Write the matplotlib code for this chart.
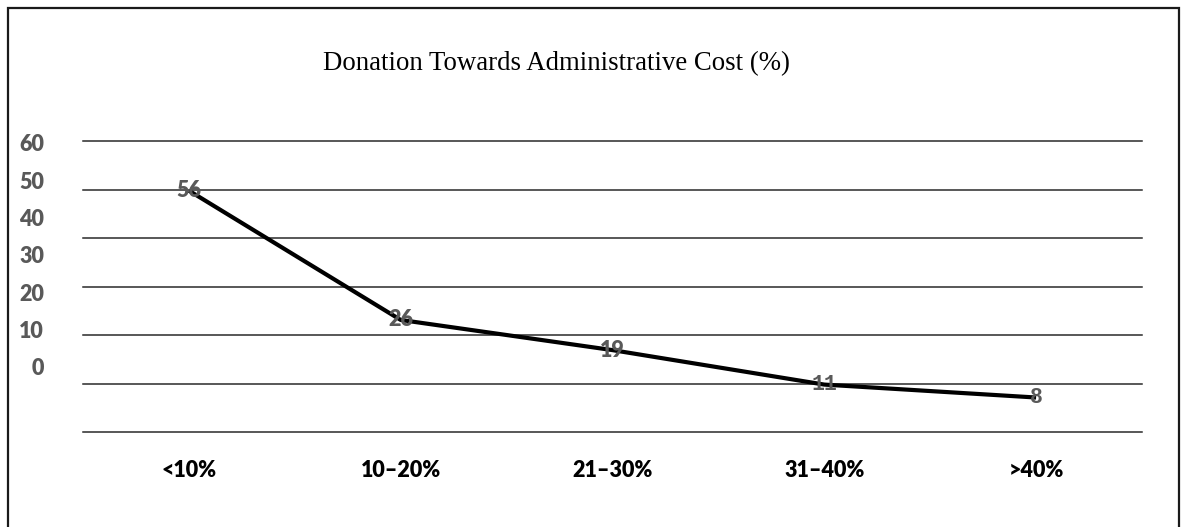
import numpy as np
import matplotlib
matplotlib.use("Agg")
import matplotlib.pyplot as plt
from matplotlib.patches import Rectangle

# ---- data ----
categories = ["<10%", "10\u201320%", "21\u201330%", "31\u201340%", ">40%"]
values = [56, 26, 19, 11, 8]
ytick_labels = [0, 10, 20, 30, 40, 50, 60]
title = "Donation Towards Administrative Cost (%)"

W, H, DPI = 1181, 527, 100
fig = plt.figure(figsize=(W / DPI, H / DPI), dpi=DPI)
fig.patch.set_facecolor("white")

def fx(px):
    return px / W

def fy(py):
    return 1 - py / H

SANS = ["Lato", "DejaVu Sans"]
left_px, right_px, top_px, bot_px = 83, 1142, 141.3, 432.0
ax = fig.add_axes([fx(left_px), fy(bot_px), fx(right_px - left_px), (bot_px - top_px) / H])

ytop = (bot_px - top_px) / 4.31
ax.set_xlim(-0.5, len(categories) - 0.5)
ax.set_ylim(0, ytop)
ax.set_yticks(np.linspace(0, ytop, 7))
ax.set_yticklabels([])
ax.tick_params(axis="y", length=0)
ax.grid(axis="y", color="#2a2a2a", linewidth=1.1)
for gl in ax.get_ygridlines():
    gl.set_clip_on(False)
ax.set_axisbelow(True)
for s in ax.spines.values():
    s.set_visible(False)

x = np.arange(len(categories))
ax.plot(x, values, color="black", linewidth=3.0, solid_capstyle="butt", zorder=3, clip_on=False)

ax.set_xticks(x)
ax.set_xticklabels(categories, fontfamily=SANS, fontweight="heavy",
                   fontsize=15.5, color="black")
ax.tick_params(axis="x", length=0, pad=20)

label_fonts = [SANS] * 3 + [["Liberation Mono", "DejaVu Sans"]] * 2
for xi, v, fam in zip(x, values, label_fonts):
    ax.annotate(str(v), (xi, v), ha="center", va="center", fontfamily=fam,
                fontweight="heavy", fontsize=15.5, color="#595959", zorder=5,
                annotation_clip=False)

# secondary left axis carrying the (offset) value labels
ax2 = ax.twinx()
ax2.yaxis.set_ticks_position("left")
ax2.yaxis.set_label_position("left")
scale = (367 - 142.7) / 60.0
ax2.set_ylim(-(bot_px - 367) / scale, 60 + (142.7 - top_px) / scale)
ax2.set_yticks(ytick_labels)
ax2.set_yticklabels([str(t) for t in ytick_labels], fontfamily=SANS,
                    fontweight="heavy", fontsize=15.5, color="#595959")
ax2.tick_params(axis="y", length=0, pad=28)
for s in ax2.spines.values():
    s.set_visible(False)

fig.text(fx(556.6), fy(64), title, ha="center", va="center",
         fontfamily="Liberation Serif", fontsize=19.3, color="black")

# outer frame
fig.patches.append(Rectangle((fx(8), fy(540)), fx(1179 - 8), (540 - 7.5) / H,
                             transform=fig.transFigure, fill=False,
                             edgecolor="#1a1a1a", linewidth=1.6, clip_on=False))

fig.savefig("out.png", dpi=DPI)
